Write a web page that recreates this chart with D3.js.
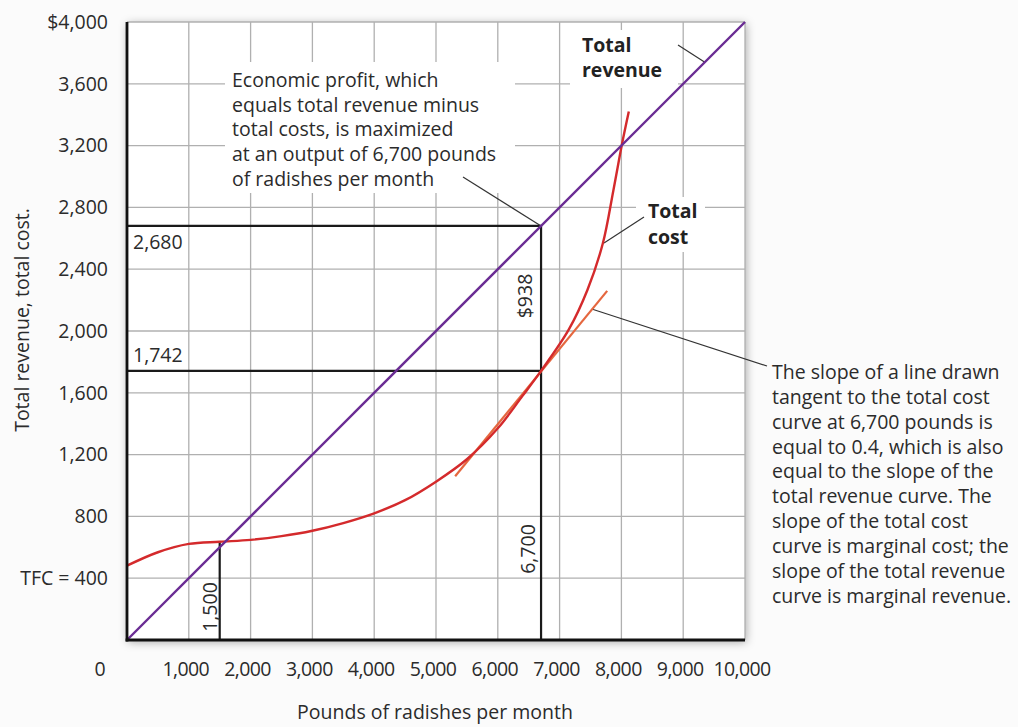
<!DOCTYPE html>
<html>
<head>
<meta charset="utf-8">
<script src="https://cdn.jsdelivr.net/npm/d3@7"></script>
<style>
  html, body { margin: 0; padding: 0; background: #fbfbfb; }
  svg { display: block; }
  text { font-family: "Open Sans", "Noto Sans", sans-serif; fill: #2b2b2b; }
</style>
</head>
<body>
<svg id="chart" width="1018" height="727"></svg>
<script>
// ---- data ----
const xTicks = [1000, 2000, 3000, 4000, 5000, 6000, 7000, 8000, 9000, 10000];
const xTickLabels = ["1,000", "2,000", "3,000", "4,000", "5,000", "6,000", "7,000", "8,000", "9,000", "10,000"];
const yTicks = [400, 800, 1200, 1600, 2000, 2400, 2800, 3200, 3600, 4000];
const yTickLabels = ["TFC = 400", "800", "1,200", "1,600", "2,000", "2,400", "2,800", "3,200", "3,600", "$4,000"];

const revenueOutput = [0, 10000];
const totalRevenue = [0, 4000];

const costOutput = [0, 500, 1000, 1500, 2000, 2500, 3000, 3500, 4000, 4500, 5000, 5500, 6000, 6400, 6700, 7150, 7450, 7700, 7870, 8010, 8120];
const totalCost  = [481, 568, 622, 636, 648, 672, 707, 757, 820, 905, 1025, 1170, 1370, 1580, 1742, 2010, 2265, 2568, 2910, 3210, 3420];

const tangentOutput = [5310, 7770];
const tangentCost = [1060, 2260];

const profitMaxOutput = 6700;
const profitMaxRevenue = 2680;
const profitMaxCost = 1742;
const profitLabel = "$938";
const breakEvenOutput = 1500;
const breakEvenValue = 634;

const profitNote = ["Economic profit, which", "equals total revenue minus", "total costs, is maximized", "at an output of 6,700 pounds", "of radishes per month"];
const slopeNote = ["The slope of a line drawn", "tangent to the total cost", "curve at 6,700 pounds is", "equal to 0.4, which is also", "equal to the slope of the", "total revenue curve. The", "slope of the total cost", "curve is marginal cost; the", "slope of the total revenue", "curve is marginal revenue."];

// ---- layout ----
const svg = d3.select("#chart");
const L = 127, T = 22, W = 618, H = 618;
const x = d3.scaleLinear().domain([0, 10000]).range([L, L + W]);
const y = d3.scaleLinear().domain([0, 4000]).range([T + H, T]);

const defs = svg.append("defs");
const f = defs.append("filter").attr("id", "shadow").attr("x", "-10%").attr("y", "-10%").attr("width", "120%").attr("height", "120%");
f.append("feDropShadow").attr("dx", 1).attr("dy", 2).attr("stdDeviation", 5).attr("flood-color", "#000").attr("flood-opacity", 0.35);

svg.append("rect").attr("x", L).attr("y", T).attr("width", W).attr("height", H)
  .attr("fill", "#fff").attr("filter", "url(#shadow)");

// gridlines
const grid = svg.append("g").attr("stroke", "#b0b0b0").attr("stroke-width", 1.3);
grid.selectAll(".vg").data(xTicks).join("line")
  .attr("x1", d => x(d)).attr("x2", d => x(d)).attr("y1", T).attr("y2", T + H);
grid.selectAll(".hg").data(yTicks).join("line")
  .attr("x1", L).attr("x2", L + W).attr("y1", d => y(d)).attr("y2", d => y(d));

// white label boxes covering gridlines
const boxes = [
  {x0: 225, y0: 62, x1: 515, y1: 193},
  {x0: 570, y0: 30, x1: 678, y1: 88},
  {x0: 636, y0: 197, x1: 705, y1: 252}
];
svg.selectAll(".box").data(boxes).join("rect")
  .attr("x", d => d.x0).attr("y", d => d.y0).attr("width", d => d.x1 - d.x0).attr("height", d => d.y1 - d.y0)
  .attr("fill", "#fff");

// reference lines (black)
const ref = svg.append("g").attr("stroke", "#1a1a1a").attr("stroke-width", 2.2).attr("fill", "none");
ref.append("line").attr("x1", x(0)).attr("x2", x(profitMaxOutput)).attr("y1", y(profitMaxRevenue)).attr("y2", y(profitMaxRevenue));
ref.append("line").attr("x1", x(0)).attr("x2", x(profitMaxOutput)).attr("y1", y(profitMaxCost)).attr("y2", y(profitMaxCost));
ref.append("line").attr("x1", x(profitMaxOutput)).attr("x2", x(profitMaxOutput)).attr("y1", y(profitMaxRevenue)).attr("y2", y(0));
ref.append("line").attr("x1", x(breakEvenOutput)).attr("x2", x(breakEvenOutput)).attr("y1", y(breakEvenValue)).attr("y2", y(0));

// leader lines
const lead = svg.append("g").attr("stroke", "#333").attr("stroke-width", 1.2);
lead.append("line").attr("x1", 463).attr("y1", 177).attr("x2", x(profitMaxOutput)).attr("y2", y(profitMaxRevenue));
lead.append("line").attr("x1", 678).attr("y1", 45).attr("x2", x(9350)).attr("y2", y(9350 * 0.4));
lead.append("line").attr("x1", 644).attr("y1", 217).attr("x2", 604).attr("y2", 243);
lead.append("line").attr("x1", x(7520)).attr("y1", y(1742 + (7520 - 6700) * 0.488)).attr("x2", 767).attr("y2", 366);

// curves
const line = d3.line().x(d => x(d[0])).y(d => y(d[1]));
svg.append("path").datum(d3.zip(tangentOutput, tangentCost)).attr("d", line)
  .attr("fill", "none").attr("stroke", "#e5673f").attr("stroke-width", 2.2);
svg.append("path").datum(d3.zip(costOutput, totalCost)).attr("d", line.curve(d3.curveCatmullRom.alpha(0.5)))
  .attr("fill", "none").attr("stroke", "#d42a2c").attr("stroke-width", 2.4);
svg.append("path").datum(d3.zip(revenueOutput, totalRevenue)).attr("d", d3.line().x(d => x(d[0])).y(d => y(d[1])))
  .attr("fill", "none").attr("stroke", "#6a2c93").attr("stroke-width", 2.4);

// axes (left & bottom, thick black)
const ax = svg.append("g").attr("stroke", "#111").attr("stroke-width", 2.8);
ax.append("line").attr("x1", L).attr("x2", L).attr("y1", T).attr("y2", T + H + 1.4);
ax.append("line").attr("x1", L - 1.4).attr("x2", L + W).attr("y1", T + H).attr("y2", T + H);

// tick labels
const fs = 19.5;
svg.selectAll(".yl").data(yTicks).join("text")
  .attr("x", 108).attr("y", d => y(d)).attr("dy", "0.35em").attr("text-anchor", "end")
  .attr("font-size", fs).text((d, i) => yTickLabels[i]);
svg.selectAll(".xl").data(xTicks).join("text")
  .attr("x", d => x(d) - 3).attr("y", 669).attr("dy", "0.35em").attr("text-anchor", "middle")
  .attr("font-size", fs).attr("letter-spacing", -0.6).text((d, i) => xTickLabels[i]);
svg.append("text").attr("x", 100).attr("y", 669).attr("dy", "0.35em").attr("text-anchor", "middle")
  .attr("font-size", fs).text("0");

// axis titles
svg.append("text").attr("transform", "translate(22,320) rotate(-90)").attr("text-anchor", "middle")
  .attr("dy", "0.35em").attr("font-size", fs).text("Total revenue, total cost.");
svg.append("text").attr("x", 435).attr("y", 712).attr("text-anchor", "middle")
  .attr("dy", "0.35em").attr("font-size", fs).text("Pounds of radishes per month");

// value labels
svg.append("text").attr("x", 133).attr("y", 242).attr("dy", "0.35em").attr("font-size", fs).text("2,680");
svg.append("text").attr("x", 133).attr("y", 355).attr("dy", "0.35em").attr("font-size", fs).text("1,742");
svg.append("text").attr("transform", "translate(525,296) rotate(-90)").attr("text-anchor", "middle")
  .attr("dy", "0.35em").attr("font-size", fs).text(profitLabel);
svg.append("text").attr("transform", "translate(528,549) rotate(-90)").attr("text-anchor", "middle")
  .attr("dy", "0.35em").attr("font-size", fs).text("6,700");
svg.append("text").attr("transform", "translate(210,607) rotate(-90)").attr("text-anchor", "middle")
  .attr("dy", "0.35em").attr("font-size", fs).text("1,500");

// notes
svg.selectAll(".pn").data(profitNote).join("text")
  .attr("x", 232).attr("y", (d, i) => 80 + i * 24.8).attr("dy", "0.35em").attr("font-size", fs).text(d => d);
svg.selectAll(".sn").data(slopeNote).join("text")
  .attr("x", 772).attr("y", (d, i) => 372 + i * 24.9).attr("dy", "0.35em").attr("font-size", fs).text(d => d);

const bold = [
  {t: "Total", x: 582, y: 45}, {t: "revenue", x: 582, y: 70},
  {t: "Total", x: 648, y: 211}, {t: "cost", x: 648, y: 237}
];
svg.selectAll(".bl").data(bold).join("text")
  .attr("x", d => d.x).attr("y", d => d.y).attr("dy", "0.35em").attr("font-size", fs)
  .attr("font-weight", "bold").style("fill", "#222").text(d => d.t);
</script>
</body>
</html>
